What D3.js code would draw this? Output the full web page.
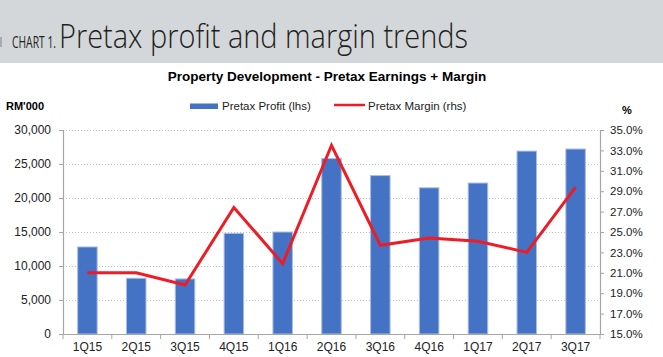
<!DOCTYPE html>
<html><head><meta charset="utf-8">
<script src="https://cdn.jsdelivr.net/npm/d3@7"></script>
<style>body{margin:0;background:#fff}svg{display:block}</style>
</head><body>
<svg id="c" width="663" height="357"></svg>
<script>
const categories = ["1Q15","2Q15","3Q15","4Q15","1Q16","2Q16","3Q16","4Q16","1Q17","2Q17","3Q17"];
const profit = [12800, 8200, 8100, 14800, 15000, 25800, 23300, 21500, 22200, 26900, 27200];
const margin = [21.0, 21.0, 19.8, 27.4, 21.9, 33.5, 23.7, 24.4, 24.1, 23.0, 29.4];
const leftTicks = [0, 5000, 10000, 15000, 20000, 25000, 30000];
const rightTicks = [15, 17, 19, 21, 23, 25, 27, 29, 31, 33, 35];

const svg = d3.select("#c");
const L = 63, R = 600, T = 130, B = 334;
const font = "Liberation Sans, Arial, sans-serif";

// header
svg.append("rect").attr("x",0).attr("y",0).attr("width",663).attr("height",63).attr("fill","#d4d7da");
svg.append("rect").attr("x",0).attr("y",37).attr("width",2).attr("height",10).attr("fill","#a9acaf");
svg.append("text").attr("transform","translate(12,48) scale(1,1.5)").attr("font-family","Open Sans, sans-serif")
  .attr("font-size",10.5).attr("fill","#231f20").attr("textLength",44).attr("lengthAdjust","spacingAndGlyphs").text("CHART 1.");
svg.append("text").attr("transform","translate(59,48) scale(1,1.19)").attr("font-family","Open Sans, sans-serif")
  .attr("font-weight",300).attr("font-size",27).attr("fill","#231f20")
  .attr("textLength",409).attr("lengthAdjust","spacingAndGlyphs").text("Pretax profit and margin trends");

svg.append("text").attr("x",327).attr("y",81).attr("text-anchor","middle").attr("font-family",font)
  .attr("font-weight","bold").attr("font-size",13.5).attr("fill","#000").text("Property Development - Pretax Earnings + Margin");

svg.append("text").attr("x",6).attr("y",110).attr("font-family",font).attr("font-weight","bold")
  .attr("font-size",11).attr("fill","#000").text("RM'000");
svg.append("text").attr("x",622).attr("y",114).attr("font-family",font).attr("font-weight","bold")
  .attr("font-size",11).attr("fill","#000").text("%");

// legend
svg.append("rect").attr("x",190).attr("y",103.5).attr("width",28).attr("height",5.5).attr("fill","#4472c4");
svg.append("text").attr("x",222).attr("y",110).attr("font-family",font).attr("font-size",11.5).attr("fill","#222").text("Pretax Profit (lhs)");
svg.append("line").attr("x1",334).attr("x2",365).attr("y1",105).attr("y2",105).attr("stroke","#ee1c25").attr("stroke-width",2.5);
svg.append("text").attr("x",368).attr("y",110).attr("font-family",font).attr("font-size",11.5).attr("fill","#222").text("Pretax Margin (rhs)");

const xb = d3.scaleBand().domain(categories).range([L, R]);
const y = d3.scaleLinear().domain([0, 30000]).range([B, T]);
const y2 = d3.scaleLinear().domain([15, 35]).range([B, T]);

// grid
svg.append("g").selectAll("line").data(leftTicks.slice(1)).join("line")
  .attr("x1",L).attr("x2",R).attr("y1",d=>y(d)+0.5).attr("y2",d=>y(d)+0.5)
  .attr("stroke","#bfbfbf").attr("stroke-width",1).attr("stroke-dasharray","1,2");

// bars
svg.append("g").selectAll("rect").data(profit).join("rect")
  .attr("x",(d,i)=>xb(categories[i]) + xb.bandwidth()/2 - 9.75)
  .attr("width",19.5)
  .attr("y",d=>y(d)).attr("height",d=>B-y(d))
  .attr("fill","#4472c4").attr("stroke","#a9bde4").attr("stroke-width",1);

// axes
const gL = svg.append("g").attr("transform",`translate(${L},0)`)
  .call(d3.axisLeft(y).tickValues(leftTicks).tickFormat(d3.format(",")).tickSize(4).tickPadding(8));
const gR = svg.append("g").attr("transform",`translate(${R},0)`)
  .call(d3.axisRight(y2).tickValues(rightTicks).tickFormat(d=>d.toFixed(1)+"%").tickSize(4).tickPadding(6));
const gB = svg.append("g").attr("transform",`translate(0,${B})`)
  .call(d3.axisBottom(xb).tickSize(0).tickPadding(8.5));
// category boundary ticks
svg.append("g").selectAll("line").data(categories.concat(["end"])).join("line")
  .attr("x1",(d,i)=>L + i*xb.step()).attr("x2",(d,i)=>L + i*xb.step())
  .attr("y1",B).attr("y2",B+5).attr("stroke","#a6a6a6");

[gL,gR,gB].forEach(g=>{
  g.selectAll("path").attr("stroke","#a6a6a6").attr("stroke-width",1.2);
  g.selectAll("line").attr("stroke","#a6a6a6");
  g.selectAll("text").attr("font-family",font).attr("fill","#222");
});
gL.selectAll("text").attr("font-size",12);
gR.selectAll("text").attr("font-size",11.5);
gB.selectAll("text").attr("font-size",12);
gB.select("path").attr("d",`M${L},0.5H${R}`);

// margin line
const line = d3.line().x((d,i)=>xb(categories[i]) + xb.bandwidth()/2).y(d=>y2(d));
svg.append("path").datum(margin).attr("d",line).attr("fill","none")
  .attr("stroke","#ee1c25").attr("stroke-width",3).attr("stroke-linejoin","miter");
</script>
</body></html>
